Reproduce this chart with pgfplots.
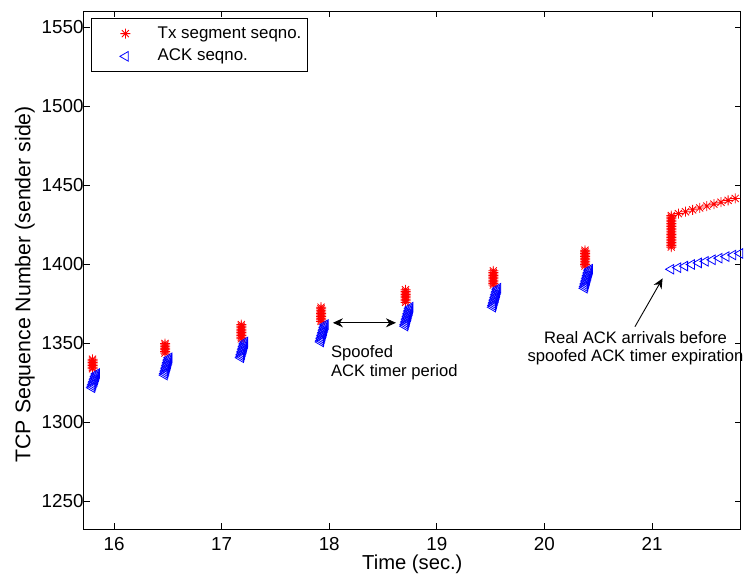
\documentclass[border=0pt]{standalone}
\usepackage{fontspec}
\setmainfont{Liberation Sans}
\usepackage{pgfplots}
\pgfplotsset{compat=1.18}
\usetikzlibrary{arrows.meta}

\pgfdeclareplotmark{mstar}{%
  \pgfpathmoveto{\pgfqpoint{0pt}{\pgfplotmarksize}}\pgfpathlineto{\pgfqpoint{0pt}{-\pgfplotmarksize}}%
  \pgfpathmoveto{\pgfqpoint{\pgfplotmarksize}{0pt}}\pgfpathlineto{\pgfqpoint{-\pgfplotmarksize}{0pt}}%
  \pgfpathmoveto{\pgfqpoint{0.707\pgfplotmarksize}{0.707\pgfplotmarksize}}\pgfpathlineto{\pgfqpoint{-0.707\pgfplotmarksize}{-0.707\pgfplotmarksize}}%
  \pgfpathmoveto{\pgfqpoint{0.707\pgfplotmarksize}{-0.707\pgfplotmarksize}}\pgfpathlineto{\pgfqpoint{-0.707\pgfplotmarksize}{0.707\pgfplotmarksize}}%
  \pgfusepathqstroke}

\pgfplotstableread{
t s
15.800 1334
15.800 1335
15.800 1336
15.800 1337
15.800 1338
15.800 1339
15.800 1340
16.474 1344
16.474 1345
16.474 1346
16.474 1347
16.474 1348
16.474 1349
16.474 1350
17.183 1353
17.183 1354
17.183 1355
17.183 1356
17.183 1357
17.183 1358
17.183 1359
17.183 1360
17.183 1361
17.183 1362
17.924 1364
17.924 1365
17.924 1366
17.924 1367
17.924 1368
17.924 1369
17.924 1370
17.924 1371
17.924 1372
17.924 1373
18.709 1376
18.709 1377
18.709 1378
18.709 1379
18.709 1380
18.709 1381
18.709 1382
18.709 1383
18.709 1384
19.525 1387
19.525 1388
19.525 1389
19.525 1390
19.525 1391
19.525 1392
19.525 1393
19.525 1394
19.525 1395
19.525 1396
20.377 1399
20.377 1400
20.377 1401
20.377 1402
20.377 1403
20.377 1404
20.377 1405
20.377 1406
20.377 1407
20.377 1408
20.377 1409
21.179 1411
21.179 1412
21.179 1413
21.179 1414
21.179 1415
21.179 1416
21.179 1417
21.179 1418
21.179 1419
21.179 1420
21.179 1421
21.179 1422
21.179 1423
21.179 1424
21.179 1425
21.179 1426
21.179 1427
21.179 1428
21.179 1429
21.179 1430
21.179 1431
21.245 1432.2
21.311 1433.4
21.377 1434.6
21.443 1435.8
21.509 1437.0
21.575 1438.2
21.641 1439.4
21.707 1440.6
21.773 1441.8
21.839 1443.0
}\txdata

\pgfplotstableread{
t s
15.795 1322
15.800 1323
15.805 1324
15.810 1325
15.815 1326
15.820 1327
15.825 1328
15.830 1329
15.835 1330
15.840 1331
16.470 1330
16.474 1331
16.478 1332
16.482 1333
16.486 1334
16.490 1335
16.494 1336
16.498 1337
16.502 1338
16.506 1339
16.510 1340
16.514 1341
17.178 1341
17.182 1342
17.186 1343
17.190 1344
17.194 1345
17.198 1346
17.202 1347
17.206 1348
17.210 1349
17.214 1350
17.218 1351
17.920 1351
17.924 1352
17.928 1353
17.932 1354
17.936 1355
17.940 1356
17.944 1357
17.948 1358
17.952 1359
17.956 1360
17.960 1361
17.964 1362
18.705 1361
18.709 1362
18.713 1363
18.717 1364
18.721 1365
18.725 1366
18.729 1367
18.733 1368
18.737 1369
18.741 1370
18.745 1371
18.749 1372
18.753 1373
19.520 1373
19.524 1374
19.528 1375
19.532 1376
19.536 1377
19.540 1378
19.544 1379
19.548 1380
19.552 1381
19.556 1382
19.560 1383
19.564 1384
19.568 1385
20.372 1385
20.376 1386
20.380 1387
20.384 1388
20.388 1389
20.392 1390
20.396 1391
20.400 1392
20.404 1393
20.408 1394
20.412 1395
20.416 1396
20.420 1397
21.177 1397
21.241 1398
21.305 1399
21.369 1400
21.433 1401
21.497 1402
21.561 1403
21.625 1404
21.689 1405
21.753 1406
21.817 1407
}\ackdata

\begin{document}
\begin{tikzpicture}
\path[use as bounding box] (-84pt,-45pt) rectangle (661pt,529pt);
\clip (-84pt,-45pt) rectangle (661pt,529pt);
\begin{axis}[
  scale only axis, width=656.7pt, height=517.3pt,
  xmin=15.721, xmax=21.824, ymin=1232.6, ymax=1560,
  xtick={16,17,18,19,20,21}, ytick={1250,1300,1350,1400,1450,1500,1550},
  tick align=inside, major tick length=5.7pt,
  axis line style={line width=1pt},
  tick style={line width=0.8pt,black},
  /pgf/number format/assume math mode=true,
  /pgf/number format/set thousands separator={},
  ticklabel style={font=\fontsize{18.8}{22}\selectfont},
  xticklabel style={yshift=-5pt},
  yticklabel style={xshift=3pt},
  label style={font=\fontsize{20.7}{24}\selectfont},
  xlabel={Time (sec.)},
  xlabel style={yshift=3pt, font=\fontsize{20.2}{24}\selectfont},
  ylabel={TCP Sequence Number (sender side)},
  ylabel style={at={(ticklabel cs:0.473)}, font=\fontsize{21.3}{24}\selectfont},
  legend cell align=left,
  legend image code/.code={\path[draw=none,fill=none] (0pt,0pt) -- (60.6pt,0pt); \draw[#1] plot coordinates {(30.3pt,0pt)};},
  legend style={at={(0,1)}, anchor=north west, xshift=7pt, yshift=-6.6pt,
    draw=black, line width=0.8pt, inner xsep=3.7pt, inner ysep=3.6pt,
    column sep=0pt, row sep=0pt,
    font=\fontsize{16.9}{20}\selectfont,
    nodes={inner xsep=2pt, inner ysep=3.35pt, text height=12.5pt, text depth=3.5pt}},
]
\addplot[only marks, mark=mstar, mark size=5pt, color=red, line width=0.8pt] table[x=t,y=s] {\txdata};
\addlegendentry{Tx segment seqno.}
\addplot[only marks, mark=triangle, mark size=5.5pt, mark options={rotate=90}, color=blue, line width=0.8pt] table[x=t,y=s] {\ackdata};
\addlegendentry{ACK seqno.}
\coordinate (A1) at (axis cs:18.034,1363.1);
\coordinate (A2) at (axis cs:18.620,1363.1);
\coordinate (B1) at (axis cs:20.841,1360.6);
\coordinate (B2) at (axis cs:21.098,1391.2);
\coordinate (T1) at (axis cs:18.016,1339.0);
\coordinate (T2) at (axis cs:20.846,1348.2);
\end{axis}
\draw[line width=0.9pt, {Stealth[length=10pt,width=9pt]}-{Stealth[length=10pt,width=9pt]}] (A1) -- (A2);
\draw[line width=0.9pt, -{Stealth[length=10pt,width=9pt]}] (B1) -- (B2);
\node[anchor=west, align=left, inner sep=0pt, yshift=-1.75pt, font=\fontsize{16.6}{18.3}\selectfont] at (T1) {Spoofed\\ACK timer period};
\node[align=center, inner sep=0pt, yshift=-1.75pt, font=\fontsize{16.6}{18.3}\selectfont] at (T2) {Real ACK arrivals before\\spoofed ACK timer expiration};
\end{tikzpicture}
\end{document}
